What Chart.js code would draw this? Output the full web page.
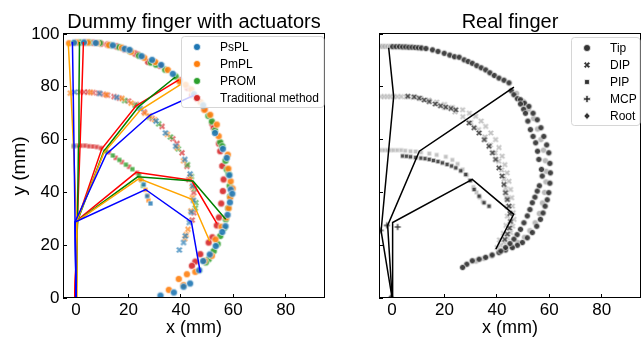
<!DOCTYPE html>
<html>
<head>
<meta charset="utf-8">
<script src="https://cdn.jsdelivr.net/npm/chart.js@4"></script>
<style>
  html, body { margin: 0; padding: 0; background: #fff; overflow: hidden; width: 642px; height: 337px; }
  canvas { position: absolute; top: 0; }
  #left { left: 0; }
  #right { left: 316px; }
</style>
</head>
<body>
<canvas id="left" width="330" height="337"></canvas>
<canvas id="right" width="330" height="337"></canvas>
<script>
// ---- data (mm) ----
const xTicks = [0, 20, 40, 60, 80];
const yTicks = [0, 20, 40, 60, 80, 100];

// dummy finger: marker trajectories
const psplTip = [[-0.8,96.7],[3,96.8],[7.5,96.6],[14,95.7],[18.5,94.4],[20.4,94],[25,91.6],[29,90.2],[32.5,88.3],[36.9,84.9],[45,77.2],[48.5,73],[53,62.5],[56,56.5],[57.5,53.1],[58.5,46.5],[59,41.1],[59.6,39.5],[58.7,36.2],[57.8,31.5],[57,27.2],[55.8,25],[53.3,19.7],[51,16.5],[48.5,14],[47,10.5],[43.5,5.5],[41,4.3],[37.3,2.1],[32.2,0.9]];
const pmplTip = [[-2.7,96.5],[0.2,96.8],[4.5,96.8],[8,96.6],[12.5,95.8],[17.5,94.8],[21,93.3],[26,91],[30.2,89.4],[35,86.4],[39.5,82],[41.8,80.8],[44,79],[47.5,74.2],[49,71.3],[51.2,69.4],[53.7,65.7],[54.4,61.3],[57.9,54.3],[58.1,49],[59,44.2],[59.7,41.5],[58.8,38],[58.2,34],[57.3,30.5],[55.5,27],[53.2,22.2],[51.8,16],[49,14.1],[45.5,9.9],[42.3,9],[39.2,7.2],[41,4.9],[35.4,3.1]];
const promTip = [[1.5,96.8],[5,96.8],[9,96.6],[13,95.8],[16.5,95],[20.5,93.5],[24,91.8],[28.5,89.2],[30.5,88.4],[34,86.5],[38,83.9],[50.5,69],[51.8,66.9],[53,63.5],[55,59],[55.8,57.5],[57,52],[57.5,48.7],[58.2,47],[58.6,42.5],[58.7,38.5],[58,34],[57.1,29.8],[56.5,26.5],[55,23.5],[54,20.5],[52.5,17.8],[50.6,14.7],[49.5,13.5]];
const tradTip = [[3.4,96.8],[6.5,96.7],[9.5,96.4],[12,96],[15.5,95.3],[18.5,94.2],[22.5,92.6],[23.5,92.2],[27.5,89.4],[32,88],[39.5,82.5],[42.5,79.5],[44.2,76.8],[46,75.5],[49,71.5],[52,66],[52.5,64.5],[54.5,58.5],[55,55.6],[55.8,50],[56.3,44.9],[56,40.5],[55.4,35.8],[54.5,30.5],[53.7,27.5],[52,23],[50.6,21],[47.4,16.6],[45.5,13.8],[44.2,12.2]];

const psplDip = [[-0.5,78],[9,77.5],[15.5,76],[24.5,71.8],[30.5,67],[34.1,62.5],[38,57.5],[41.5,52.5],[43.5,47],[44.5,42.5],[44.8,37],[44,32.5],[43.2,28.6],[41.7,23.5],[41,21],[39.4,18.2]];
const pmplDip = [[-2.2,77.6],[5.5,77.9],[11.5,77],[17.5,75.6],[21,73.8],[26.2,70],[28,69],[30,67.5],[34.8,62],[38.5,57],[41,52],[43.5,46],[44.3,42],[44.4,38],[43.8,33],[42.7,26],[42,24],[41.5,22.5]];
const promDip = [[18.5,74.8],[22.5,73],[28,68.5],[31.5,66],[36,61],[39,56.5],[42.5,50.5],[44,46],[45.2,41.5],[45.7,36.1],[45.5,34]];
const tradDip = [[1.4,78],[3,78],[4.5,78],[6.5,77.8],[8.5,77.6],[10.5,77.2],[12,76.8],[14.5,76.3],[16.5,75.7],[20,74.6],[23,73.3],[26,70.5],[29,68],[32.8,65],[36.9,60.3],[38.5,58.5],[40.4,55],[42.3,49.9],[43,44.9],[44.9,39.9],[44.9,32.3],[44.3,29.5]];

const psplPip = [[-0.8,57.6],[25.8,43],[27.1,38.6],[28.4,35.8]];
const pmplPip = [[-1,57.5],[24.6,44.9],[26.5,41],[27.3,38.8],[27.6,37]];
const promPip = [[11.3,55.6],[14,54],[16.5,52.3],[19,50.5],[21.5,48.8],[24,46.8],[25,44.5],[25.5,42.5]];
const tradPip = [[0.5,57.7],[2,57.7],[3.5,57.7],[5,57.5],[6.5,57.4],[8,57.2],[9.5,56.8],[12.5,55.2],[15.1,53.1],[17.5,51.5],[20.2,49.7],[23.3,47.4]];

// dummy finger: skeleton poses (root, MCP, PIP, DIP, tip)
const psplPoses = [
  [[0,0],[-0.4,28.8],[-0.8,57.5],[-1.1,78],[-1.4,97]],
  [[0,0],[-0.4,28.8],[11.5,54.5],[28.4,69.4],[45.5,77]],
  [[0,0],[-0.4,28.8],[26.5,41.1],[44,28.8],[47.4,9.7]]
];
const pmplPoses = [
  [[0,0],[0.2,29],[-1,57.5],[-2,78.3],[-3,96.7]],
  [[0,0],[0.2,29],[10.6,55],[24.6,71.3],[39.8,80.8]],
  [[0,0],[0.2,29],[24,45.2],[44,37.5],[51,21.5]]
];
const promPoses = [
  [[0,0],[0.5,29.2],[0.9,57.5],[1.1,78],[1.3,97]],
  [[0,0],[0.5,29.2],[10.6,55.6],[24,72.6],[37.9,83.7]],
  [[0,0],[0.5,29.2],[23.5,45.9],[44.6,44.3],[57.1,29.8]]
];
const tradPoses = [
  [[-0.5,0],[0.5,29.5],[1.5,57.5],[2.2,78],[2.8,97]],
  [[-0.5,0],[0.5,29.5],[9.8,56.5],[22.9,72.8],[39.2,82.6]],
  [[-0.5,0],[0.5,29.5],[22.9,47.6],[44,44.6],[53.7,28.3]]
];

// real finger
const realTipDark = [[0.2,95.2],[1.5,95.2],[2.8,95.2],[4,95.1],[5.2,95.1],[6.4,95],[7.6,95],[8.8,94.9],[10,94.8],[11.2,94.7],[12.9,94.5],[15.4,94],[17.5,93.4],[19.9,92.7],[22,92],[23.8,91.4],[25.6,91.2],[27.5,90.2],[29,89.6],[30.6,88.9],[32.3,88],[34,87.2],[35.7,86.4],[37.3,85.3],[39,84.3],[40.8,83.3],[42.7,82.5],[44.6,81.5],[45.5,78.5],[46.5,77],[47.8,75.5],[49,75.1],[50.5,73.8],[52.2,72.6],[53.8,70],[55.4,67.5],[56.8,64.5],[57.9,61.2],[59,58],[59.8,55],[60.2,51],[60.4,47.4],[60.2,43.5],[59.8,39.9],[59.2,37.2],[58.4,34.8],[57.6,32.2],[56.6,29.8],[55.2,27.2],[53.5,24.8],[51.6,22.8],[49.7,21],[47.8,20],[45.9,19.1],[43.3,18.2],[40.8,17.2],[38.2,16.3],[35.7,15.4],[33.2,14.7],[30.6,14.1],[28.5,12.8],[26.9,11.6],[49,73.5],[50.2,71.5],[50.9,70],[51.8,67],[52.8,63.8],[53.8,61.2],[54.8,58.8],[55.5,55.6],[56,52.5],[57,48.7],[57.3,46.2],[56.2,42.5],[55.4,40.5],[54.5,38.2],[53.5,36.1],[52.6,33.5],[51.6,31.1],[50.3,28.5],[49,26],[47.7,24],[46.5,22.3],[45,20.6],[43.3,19.1],[41.5,17.8]];
const realTipLight = [[-4.8,95.3],[-3.8,95.3],[-2.8,95.3],[-1.6,95.3],[-0.6,95.3],[47.5,77.5],[50,74.5],[52,71.5],[54,68],[55.5,64],[56.8,60],[57.8,56],[58.5,52],[58.8,48],[58.7,44],[58.2,40],[57.4,36],[56.2,32],[54.6,28.5],[52.6,25.5],[50.5,23],[48,21],[45.5,19.5],[38,16],[35,15],[32,14]];
const realDipDark = [[6,76.4],[8.5,76.2],[10.4,75.7],[12.3,75],[14.2,74.4],[16.5,73.5],[18.5,72.8],[20.5,72.3],[22.5,71.8],[24.3,71.3],[29.4,66.3],[31.3,64.5],[33.2,62.5],[35.2,60],[37,57.5],[38.3,55],[39.5,52.5],[40.8,49.3],[42,46.2],[42.7,43],[43.3,39.9],[44,37.3],[44.6,34.8],[45,32],[45.2,29],[44.8,26.5],[44,24.2],[43,22.2]];
const realDipLight = [[-4.2,76.3],[-3,76.3],[-1.8,76.3],[-0.6,76.3],[0.6,76.3],[2,76.3],[3.5,76.3],[5.4,76.2],[8,76],[11,75.6],[14,75],[17,74.2],[20,73.3],[23,72.2],[26.9,71.3],[29.5,70],[31.9,68.8],[34,67],[35.7,65],[37.7,62.5],[39.5,60],[40.8,57],[42,53.7],[43,50.5],[43.9,47.4],[44.6,44.2],[45.2,41.1],[45.6,38],[45.9,34.8],[46.2,32.3],[46.5,29.8],[46,27.2],[45.2,24.8],[44,22.8],[42.7,21],[41.4,20],[40.1,19.1],[20,72.2],[24,70.5],[27,68.7],[30,66.5],[33,63.8],[35.5,61],[37.5,58],[39.3,55],[40.7,51.8],[41.8,48.5],[42.7,45],[43.3,41.5],[43.7,38],[44,34.5],[44,31],[43.5,27.5],[42.5,24.5],[41,22]];
const realPipDark = [[4,53.8],[5.5,53.7],[7,53.5],[9,53.2],[11,53],[12.6,52.8],[14.2,52.5],[15.8,52.1],[17.5,51.7],[19.2,51.2],[21,50.6],[22.7,50],[24.3,49.3],[26.2,48.2],[28.1,46.8],[29.8,44.5],[31.3,41.1],[33.2,38.6],[35.1,36.1],[37,34.8]];
const realPipLight = [[-4.2,56],[-3,56],[-1.8,56],[-0.6,56],[0.6,56],[2,56],[3.5,56],[5,55.8],[7,55.6],[9,55.5],[11,55.2],[14.2,54.7],[17,54.2],[20.5,53.5],[23,52.3],[25,50.8],[26.9,48.7],[28.5,46.5],[29.8,44.5],[31,42],[32.2,40],[33.5,38],[34.6,36.5]];
const realMcp = [[-2,27.5],[2.1,26.9],[-4.4,25.6]];
const realRoot = [[0,0],[-0.5,0.3]];
const realPoses = [
  [[0,0],[-4.2,25.4],[-1.4,55],[0.6,76.3],[-1.3,94.8]],
  [[0,0],[-1.7,27.5],[10.4,55.6],[28,67.4],[46.5,79.9]],
  [[0,0],[0.2,28.6],[30.6,44.9],[46.4,31.7],[39.6,18.5]]
];

// ---- styling ----
const FONT = '"Liberation Sans", Arial, sans-serif';
Chart.defaults.font.family = FONT;

function markerPath(g, shape, r) {
  if (shape === 'o') {
    g.arc(0, 0, r, 0, Math.PI * 2);
  } else if (shape === 's') {
    g.rect(-r * 0.8, -r * 0.8, r * 1.6, r * 1.6);
  } else if (shape === 'd') {
    g.moveTo(0, -r); g.lineTo(r * 0.9, 0); g.lineTo(0, r); g.lineTo(-r * 0.9, 0); g.closePath();
  } else {
    const a = r, t = r * 0.33;
    const rot = shape === 'X' ? Math.PI / 4 : 0;
    const pts = [[t,a],[t,t],[a,t],[a,-t],[t,-t],[t,-a],[-t,-a],[-t,-t],[-a,-t],[-a,t],[-t,t],[-t,a]];
    pts.forEach(([px, py], i) => {
      const x = px * Math.cos(rot) - py * Math.sin(rot);
      const y = px * Math.sin(rot) + py * Math.cos(rot);
      if (i === 0) g.moveTo(x, y); else g.lineTo(x, y);
    });
    g.closePath();
  }
}

function markerImage(shape, fill, size, alpha) {
  const c = document.createElement('canvas');
  const d = Math.ceil(size + 3);
  c.width = c.height = d;
  const g = c.getContext('2d');
  g.translate(d / 2, d / 2);
  g.globalAlpha = alpha;
  g.fillStyle = fill;
  g.strokeStyle = '#fff';
  g.lineWidth = 0.7;
  g.beginPath();
  markerPath(g, shape, size / 2);
  g.fill();
  g.stroke();
  return c;
}

const toXY = arr => arr.map(([x, y]) => ({ x, y }));

function pointSet(arr, shape, fill, size, alpha, order) {
  return {
    data: toXY(arr),
    pointStyle: markerImage(shape, fill, size, alpha),
    pointRadius: 3,
    showLine: false,
    order
  };
}

function poseSets(poses, color) {
  return poses.map(p => ({
    data: toXY(p),
    showLine: true,
    borderColor: color,
    borderWidth: 1.5,
    pointRadius: 0,
    fill: false,
    order: 0
  }));
}

function scales(showYLabels) {
  const grid = { drawOnChartArea: false, drawTicks: true, tickLength: -4, color: '#000', lineWidth: 1 };
  return {
    x: {
      type: 'linear', min: -5, max: 95,
      afterBuildTicks: s => { s.ticks = xTicks.map(v => ({ value: v })); },
      afterFit: s => { s.height = 39; },
      grid, border: { display: false },
      ticks: { color: '#000', font: { size: 17 }, padding: 6, maxRotation: 0, autoSkip: false },
      title: { display: true, text: 'x (mm)', color: '#000', font: { size: 18, lineHeight: 1 }, padding: { top: 0, bottom: 0 } }
    },
    y: {
      type: 'linear', min: 0, max: 100,
      afterBuildTicks: s => { s.ticks = yTicks.map(v => ({ value: v })); },
      afterFit: s => { s.width = 63; },
      grid, border: { display: false },
      ticks: { display: showYLabels, color: '#000', font: { size: 17 }, padding: 7.5, autoSkip: false },
      title: { display: showYLabels, text: 'y (mm)', color: '#000', font: { size: 19, lineHeight: 1 }, padding: { top: 10, bottom: 0 } }
    }
  };
}

// frame, title and legend drawn inside the axes like matplotlib
const decor = {
  id: 'decor',
  afterDraw(chart, args, opts) {
    const { ctx, chartArea: a } = chart;
    ctx.save();
    ctx.strokeStyle = '#000';
    ctx.lineWidth = 1;
    ctx.strokeRect(Math.round(a.left) + 0.5, Math.round(a.top) - 0.5, Math.round(a.right - a.left) - 1, Math.round(a.bottom - a.top));

    ctx.fillStyle = '#000';
    ctx.font = '20px ' + FONT;
    ctx.textAlign = 'center';
    ctx.textBaseline = 'alphabetic';
    ctx.fillText(opts.title, (a.left + a.right) / 2, 28);

    const L = opts.legend;
    const h = L.items.length * 17 + 3;
    ctx.beginPath();
    ctx.roundRect(L.x + 0.5, L.y + 0.5, a.right - L.x - 1.5, h, 3);
    ctx.fillStyle = 'rgba(255,255,255,0.8)';
    ctx.fill();
    ctx.strokeStyle = '#d6d6d6';
    ctx.stroke();
    ctx.font = '12px ' + FONT;
    ctx.textAlign = 'left';
    ctx.textBaseline = 'middle';
    L.items.forEach((it, i) => {
      const cy = L.y + 11 + i * 17;
      ctx.save();
      ctx.translate(L.x + 16, cy);
      ctx.beginPath();
      markerPath(ctx, it.shape, it.size / 2);
      ctx.fillStyle = it.color;
      ctx.fill();
      ctx.strokeStyle = '#fff';
      ctx.lineWidth = 0.7;
      ctx.stroke();
      ctx.restore();
      ctx.fillStyle = '#000';
      ctx.fillText(it.label, L.x + 39, cy + 0.5);
    });
    ctx.restore();
  }
};

const methods = [
  { label: 'PsPL', color: '#1f77b4', line: '#0000ff', tip: psplTip, dip: psplDip, pip: psplPip, poses: psplPoses },
  { label: 'PmPL', color: '#ff7f0e', line: '#ffa500', tip: pmplTip, dip: pmplDip, pip: pmplPip, poses: pmplPoses },
  { label: 'PROM', color: '#2ca02c', line: '#008000', tip: promTip, dip: promDip, pip: promPip, poses: promPoses },
  { label: 'Traditional method', color: '#d62728', line: '#ff0000', tip: tradTip, dip: tradDip, pip: tradPip, poses: tradPoses }
];

const leftSets = [];
methods.forEach((m, i) => {
  leftSets.push(pointSet(m.tip, 'o', m.color, 7, 0.9, 2 + i));
  leftSets.push(pointSet(m.dip, 'X', m.color, 7, 0.7, 2 + i));
  leftSets.push(pointSet(m.pip, 's', m.color, 6, 0.8, 2 + i));
});
methods.forEach(m => leftSets.push(...poseSets(m.poses, m.line)));

const common = {
  responsive: false,
  animation: false,
  events: [],
  layout: { padding: { left: 0, top: 34, right: 4, bottom: 0 } },
  plugins: { legend: { display: false }, tooltip: { enabled: false } }
};

new Chart(document.getElementById('left'), {
  type: 'scatter',
  data: { datasets: leftSets },
  options: Object.assign({}, common, {
    scales: scales(true),
    plugins: Object.assign({}, common.plugins, {
      decor: {
        title: 'Dummy finger with actuators',
        legend: { x: 181, y: 36, items: methods.map(m => ({ label: m.label, shape: 'o', color: m.color, size: 7 })) }
      }
    })
  }),
  plugins: [decor]
});

const DARK = '#2e2e2e', LIGHT = '#a8a8a8';
const rightSets = [
  pointSet(realTipLight, 'o', LIGHT, 6, 0.8, 3),
  pointSet(realDipLight, 'X', LIGHT, 6.5, 0.7, 3),
  pointSet(realPipLight, 's', LIGHT, 5.5, 0.7, 3),
  pointSet(realTipDark, 'o', DARK, 6, 0.9, 2),
  pointSet(realDipDark, 'X', DARK, 6.5, 0.85, 2),
  pointSet(realPipDark, 's', DARK, 5.5, 0.85, 2),
  pointSet(realMcp, 'P', DARK, 6.5, 0.85, 2),
  pointSet(realRoot, 'd', DARK, 6.5, 0.85, 2),
  ...poseSets(realPoses, '#000')
];

new Chart(document.getElementById('right'), {
  type: 'scatter',
  data: { datasets: rightSets },
  options: Object.assign({}, common, {
    scales: scales(false),
    plugins: Object.assign({}, common.plugins, {
      decor: {
        title: 'Real finger',
        legend: { x: 255, y: 37, items: [
          { label: 'Tip', shape: 'o', color: '#333', size: 7 },
          { label: 'DIP', shape: 'X', color: '#333', size: 7 },
          { label: 'PIP', shape: 's', color: '#333', size: 6 },
          { label: 'MCP', shape: 'P', color: '#333', size: 7 },
          { label: 'Root', shape: 'd', color: '#333', size: 7 }
        ] }
      }
    })
  }),
  plugins: [decor]
});
</script>
</body>
</html>
